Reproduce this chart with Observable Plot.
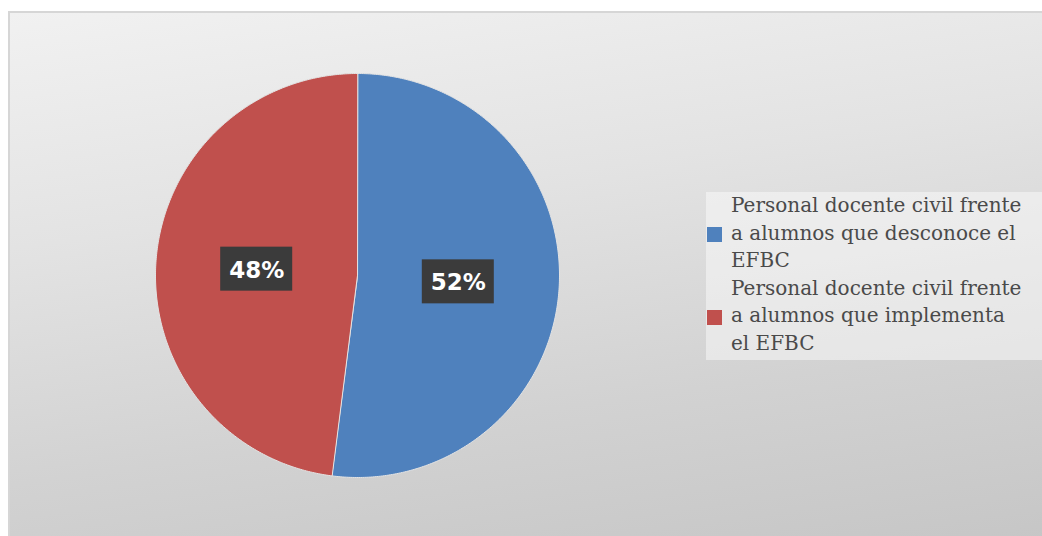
<!DOCTYPE html>
<html>
<head>
<meta charset="utf-8">
<script src="https://cdn.jsdelivr.net/npm/d3@7"></script>
<script src="https://cdn.jsdelivr.net/npm/@observablehq/plot@0.6"></script>
<style>
  html, body { margin: 0; padding: 0; background: #ffffff; width: 1042px; height: 536px; overflow: hidden; }
  #frame {
    position: absolute; left: 8px; top: 11px; width: 1040px; height: 530px;
    background: linear-gradient(172deg, #f1f1f1 0%, #e3e3e3 35%, #d2d2d2 70%, #c6c6c6 100%);
    border-top: 2px solid #d6d6d6; border-left: 2px solid #d6d6d6;
    box-sizing: border-box;
  }
  #chart { position: absolute; left: 0; top: 0; }
  #legend {
    position: absolute; left: 706px; top: 192px; width: 336px; height: 168px;
    background: rgba(255,255,255,0.45);
    font-family: "DejaVu Serif", serif; font-size: 20px; line-height: 27.5px; color: #4a4a4a;
  }
  .item { position: relative; padding-left: 25px; }
  .sw { position: absolute; left: 1px; top: 35px; width: 15px; height: 15px; }
</style>
</head>
<body>
<div id="frame"></div>
<div id="chart"></div>
<div id="legend"></div>
<script>
const categories = [
  "Personal docente civil frente a alumnos que desconoce el EFBC",
  "Personal docente civil frente a alumnos que implementa el EFBC"
];
const legendLines = [
  ["Personal docente civil frente", "a alumnos que desconoce el", "EFBC"],
  ["Personal docente civil frente", "a alumnos que implementa", "el EFBC"]
];
const values = [52, 48];
const colors = ["#4f81bd", "#c0504d"];

const W = 1042, H = 536;
const cx = 357, cy = 275, R = 202;   // pie placement in pixels
const k = 1 / R;                      // pixels -> data units

const data = categories.map((c, i) => ({key: c, value: values[i], color: colors[i]}));
const arcs = d3.pie().sort(null).value(d => d.value)(data);

// polygon points of each slice in unit-circle coordinates
const pts = [];
arcs.forEach(a => {
  const n = Math.max(2, Math.ceil((a.endAngle - a.startAngle) / 0.01));
  pts.push({key: a.data.key, color: a.data.color, x: 0, y: 0});
  for (let j = 0; j <= n; j++) {
    const t = a.startAngle + (a.endAngle - a.startAngle) * j / n;
    pts.push({key: a.data.key, color: a.data.color, x: Math.sin(t), y: Math.cos(t)});
  }
});

const labels = arcs.map(a => {
  const m = (a.startAngle + a.endAngle) / 2;
  return {text: Math.round(a.data.value) + "%", x: 0.5 * Math.sin(m), y: 0.5 * Math.cos(m)};
});
const bw = 36 * k, bh = 22 * k;

const plot = Plot.plot({
  width: W, height: H,
  margin: 0,
  style: {background: "transparent", overflow: "visible"},
  x: {domain: [-cx * k, (W - cx) * k], axis: null},
  y: {domain: [-(H - cy) * k, cy * k], axis: null},
  marks: [
    Plot.line(pts, {x: "x", y: "y", z: "key", fill: "color", stroke: "#e4e4e4", strokeWidth: 1, curve: "linear-closed"}),
    Plot.rect(labels, {x1: d => d.x - bw, x2: d => d.x + bw, y1: d => d.y - bh, y2: d => d.y + bh, fill: "#3b3b3b"}),
    Plot.text(labels, {x: "x", y: "y", text: "text", fill: "white", fontSize: 23, fontWeight: "bold", fontFamily: "DejaVu Sans, Arial, sans-serif", dy: 1})
  ]
});
document.getElementById("chart").appendChild(plot);

const lg = document.getElementById("legend");
legendLines.forEach((lines, i) => {
  const it = document.createElement("div");
  it.className = "item";
  const sw = document.createElement("div");
  sw.className = "sw";
  sw.style.background = colors[i];
  it.appendChild(sw);
  lines.forEach(l => {
    const s = document.createElement("div");
    s.textContent = l;
    it.appendChild(s);
  });
  lg.appendChild(it);
});
</script>
</body>
</html>
